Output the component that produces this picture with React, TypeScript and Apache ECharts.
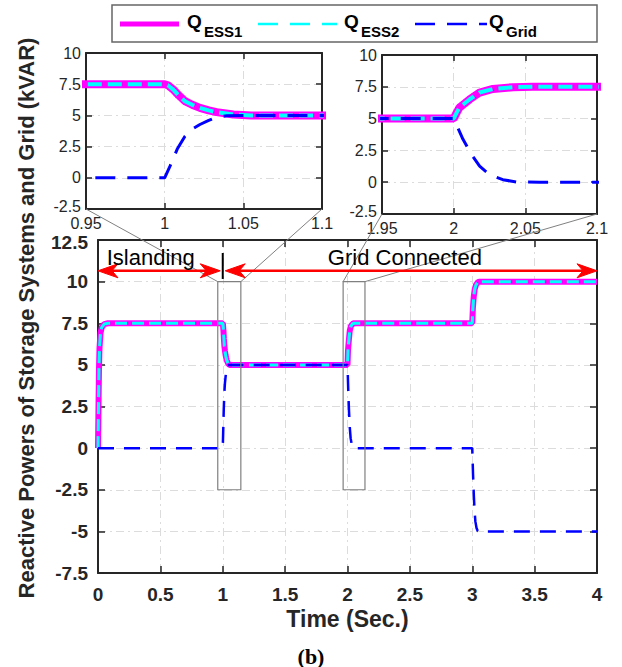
import React, { useEffect, useRef } from "react";
import * as echarts from "echarts";

// ---- data ----
const tEss = [0, 0.004, 0.008, 0.012, 0.02, 0.03, 0.05, 0.08, 1.0, 1.002, 1.0055, 1.009, 1.0129, 1.0175, 1.0224, 1.028, 1.033, 1.0436, 1.055, 2.0, 2.002, 2.004, 2.0112, 2.0181, 2.0274, 2.0414, 2.055, 3.0, 3.002, 3.005, 3.012, 3.02, 3.03, 3.045, 3.06, 4.0];
const qEss1 = [0, 2.5, 4.8, 6.0, 6.9, 7.25, 7.45, 7.5, 7.5, 7.42, 7.07, 6.6, 6.14, 5.85, 5.6, 5.4, 5.26, 5.07, 5.0, 5.0, 5.45, 5.87, 6.52, 7.05, 7.33, 7.47, 7.5, 7.5, 7.9, 8.4, 9.1, 9.55, 9.8, 9.97, 10.0, 10.0];
const qEss2 = [0, 2.5, 4.8, 6.0, 6.9, 7.25, 7.45, 7.5, 7.5, 7.42, 7.07, 6.6, 6.14, 5.85, 5.6, 5.4, 5.26, 5.07, 5.0, 5.0, 5.45, 5.87, 6.52, 7.05, 7.33, 7.47, 7.5, 7.5, 7.9, 8.4, 9.1, 9.55, 9.8, 9.97, 10.0, 10.0];
const tGrid = [0, 1.0, 1.0034, 1.008, 1.0129, 1.0175, 1.0224, 1.028, 1.033, 1.0394, 1.05, 2.0, 2.0065, 2.0124, 2.0181, 2.025, 2.0343, 2.0437, 2.06, 3.0, 3.0065, 3.0124, 3.0181, 3.025, 3.0343, 3.0437, 3.06, 4.0];
const qGrid = [0, 0, 0.93, 2.3, 3.33, 3.9, 4.27, 4.6, 4.85, 4.98, 5.0, 5.0, 3.37, 2.18, 1.26, 0.6, 0.2, 0.02, 0, 0, -1.6, -2.8, -3.7, -4.4, -4.8, -4.98, -5, -5];

const seriesNames = ["Q_ESS1", "Q_ESS2", "Q_Grid"];
const legendSubs = ["ESS1", "ESS2", "Grid"];
const mainXRange = [0, 4, 0.5];
const mainYRange = [-7.5, 12.5, 2.5];
const inset1XRange = [0.95, 1.1, 0.05];
const inset2XRange = [1.95, 2.1, 0.05];
const insetYRange = [-2.5, 10, 2.5];
const zoomBoxes = [[0.96, 1.145], [1.965, 2.14]];

const W = 622;
const H = 667;

export default function App() {
  const ref = useRef<HTMLDivElement>(null);
  useEffect(() => {
    const chart = echarts.init(ref.current as HTMLDivElement, null, { renderer: "svg" });
    const font = "'Liberation Sans', Arial, Helvetica, sans-serif";
    const ink = "#262626";
    const grids = [
      { left: 98, top: 240, width: 499, height: 333 },
      { left: 86, top: 53, width: 236, height: 156 },
      { left: 382, top: 55, width: 215, height: 159 },
    ];
    const xr = [mainXRange, inset1XRange, inset2XRange];
    const yr = [mainYRange, insetYRange, insetYRange];
    const fmt = (v: number) => String(parseFloat(v.toFixed(3)));
    const grid = [0, 1, 2].map((g) => ({ ...grids[g], containLabel: false, show: false }));

    const xAxis: any[] = [];
    const yAxis: any[] = [];
    [0, 1, 2].forEach((g) => {
      const main = g === 0;
      const fs = main ? 19 : 16;
      const labelStyle = {
        fontFamily: font,
        fontSize: fs,
        fontWeight: main ? "bold" : "normal",
        color: ink,
      };
      const rich = {
        up: { ...labelStyle, padding: [0, 0, 6, 0] },
        down: { ...labelStyle, padding: [4, 0, 0, 0] },
      };
      const split = { show: true, lineStyle: { color: "#dcdcdc", width: 1, type: [8, 4, 2, 4] } };
      const line = { show: true, onZero: false, lineStyle: { color: ink, width: 2 } };
      const tick = { show: true, inside: true, length: main ? 7 : 6, lineStyle: { color: ink, width: 1.5 } };
      ["bottom", "top"].forEach((pos, k) => {
        xAxis.push({
          type: "value",
          gridIndex: g,
          position: pos,
          min: xr[g][0],
          max: xr[g][1],
          interval: xr[g][2],
          axisLine: line,
          axisTick: tick,
          axisLabel: {
            show: k === 0,
            margin: main ? 12 : 6,
            formatter: fmt,
            showMinLabel: true,
            showMaxLabel: true,
            ...labelStyle,
          },
          splitLine: k === 0 ? split : { show: false },
          name: main && k === 0 ? "Time (Sec.)" : "",
          nameLocation: "middle",
          nameGap: 34,
          nameTextStyle: { fontFamily: font, fontSize: 23, fontWeight: "bold", color: ink },
        });
      });
      ["left", "right"].forEach((pos, k) => {
        yAxis.push({
          type: "value",
          gridIndex: g,
          position: pos,
          min: yr[g][0],
          max: yr[g][1],
          interval: yr[g][2],
          axisLine: line,
          axisTick: tick,
          axisLabel: {
            show: k === 0,
            margin: main ? 10 : 5,
            formatter: (v: number) => {
              const s = fmt(v);
              if (main && Math.abs(v - yr[g][1]) < 1e-9) return `{down|${s}}`;
              if (!main && Math.abs(v - yr[g][0]) < 1e-9) return `{up|${s}}`;
              return s;
            },
            rich,
            showMinLabel: true,
            showMaxLabel: true,
            ...labelStyle,
          },
          splitLine: k === 0 ? split : { show: false },
        });
      });
    });

    const ess1 = tEss.map((t, i) => [t, qEss1[i]]);
    const ess2 = tEss.map((t, i) => [t, qEss2[i]]);
    const gridQ = tGrid.map((t, i) => [t, qGrid[i]]);
    const series: any[] = [];
    [0, 1, 2].forEach((g) => {
      const main = g === 0;
      const common = {
        type: "line",
        xAxisIndex: 2 * g,
        yAxisIndex: 2 * g,
        symbol: "none",
        showSymbol: false,
        clip: true,
        animation: false,
      };
      series.push({
        ...common,
        name: seriesNames[0],
        data: ess1,
        lineStyle: { color: "#ff00ff", width: main ? 6 : 8 },
        z: 2,
      });
      series.push({
        ...common,
        name: seriesNames[1],
        data: ess2,
        lineStyle: { color: "#00ffff", width: main ? 3 : 4, type: main ? [12, 5] : [14, 6] },
        z: 3,
      });
      series.push({
        ...common,
        name: seriesNames[2],
        data: gridQ,
        lineStyle: { color: "#0000ff", width: main ? 2.5 : 3, type: main ? [16, 10] : [20, 12] },
        z: 4,
      });
    });

    chart.setOption({
      animation: false,
      backgroundColor: "#ffffff",
      grid,
      xAxis,
      yAxis,
      series,
    });

    const p = (g: number, x: number, y: number) =>
      chart.convertToPixel({ gridIndex: g } as any, [x, y]) as number[];

    const elements: any[] = [];
    const Z = 100;

    // Y axis title
    elements.push({
      type: "text",
      x: 26,
      y: 318,
      rotation: Math.PI / 2,
      z: Z,
      style: {
        text: "Reactive Powers of Storage Systems and Grid (kVAR)",
        fontFamily: font,
        fontSize: 22,
        fontWeight: "bold",
        fill: ink,
        align: "center",
        verticalAlign: "middle",
      },
    });
    // (b)
    elements.push({
      type: "text",
      x: 311,
      y: 656,
      z: Z,
      style: {
        text: "(b)",
        fontFamily: "'Liberation Serif', 'Times New Roman', serif",
        fontSize: 22,
        fontWeight: "bold",
        fill: "#000",
        align: "center",
        verticalAlign: "middle",
      },
    });

    // Legend box
    elements.push({
      type: "rect",
      z: Z,
      shape: { x: 112, y: 5, width: 485, height: 37 },
      style: { fill: "#fff", stroke: "#666", lineWidth: 1.5 },
    });
    const legendItems = [
      { x1: 120, x2: 179, tx: 187, color: "#ff00ff", w: 5, dash: null as any },
      { x1: 258, x2: 337, tx: 344, color: "#00ffff", w: 2.5, dash: [20, 12] },
      { x1: 415, x2: 487, tx: 489, color: "#0000ff", w: 2.5, dash: [20, 12] },
    ];
    legendItems.forEach((it, i) => {
      elements.push({
        type: "line",
        z: Z + 1,
        shape: { x1: it.x1, y1: 24, x2: it.x2, y2: 24 },
        style: { stroke: it.color, lineWidth: it.w, lineDash: it.dash || undefined },
      });
      elements.push({
        type: "text",
        z: Z + 1,
        x: it.tx,
        y: 21,
        style: {
          text: "Q",
          fontFamily: font,
          fontSize: 19,
          fontWeight: "bold",
          fill: "#000",
          align: "left",
          verticalAlign: "middle",
        },
      });
      elements.push({
        type: "text",
        z: Z + 1,
        x: it.tx + 17,
        y: 31,
        style: {
          text: legendSubs[i],
          fontFamily: font,
          fontSize: 15,
          fontWeight: "bold",
          fill: "#000",
          align: "left",
          verticalAlign: "middle",
        },
      });
    });

    // Zoom rectangles and connectors
    const insetCorners = [
      [p(1, inset1XRange[0], insetYRange[0]), p(1, inset1XRange[1], insetYRange[0])],
      [p(2, inset2XRange[0], insetYRange[0]), p(2, inset2XRange[1], insetYRange[0])],
    ];
    zoomBoxes.forEach((b, i) => {
      const tl = p(0, b[0], insetYRange[1]);
      const br = p(0, b[1], insetYRange[0]);
      const tr = p(0, b[1], insetYRange[1]);
      elements.push({
        type: "rect",
        z: Z,
        shape: { x: tl[0], y: tl[1], width: br[0] - tl[0], height: br[1] - tl[1] },
        style: { fill: "none", stroke: "#808080", lineWidth: 1.2 },
      });
      elements.push({
        type: "line",
        z: Z,
        shape: { x1: insetCorners[i][0][0], y1: insetCorners[i][0][1], x2: tl[0], y2: tl[1] },
        style: { stroke: "#808080", lineWidth: 1 },
      });
      elements.push({
        type: "line",
        z: Z,
        shape: { x1: insetCorners[i][1][0], y1: insetCorners[i][1][1], x2: tr[0], y2: tr[1] },
        style: { stroke: "#808080", lineWidth: 1 },
      });
    });

    // Arrows
    const arrowY = 10.65;
    const arrows = [
      [0, 0.98],
      [1.02, 4],
    ];
    const L = 20;
    const HW = 7;
    arrows.forEach((a) => {
      const l = p(0, a[0], arrowY);
      const r = p(0, a[1], arrowY);
      const y = l[1];
      elements.push({
        type: "line",
        z: Z + 2,
        shape: { x1: l[0] + L * 0.6, y1: y, x2: r[0] - L * 0.6, y2: y },
        style: { stroke: "#ff0000", lineWidth: 2.5 },
      });
      [
        [l[0], 1],
        [r[0], -1],
      ].forEach(([tx, d]) => {
        elements.push({
          type: "polygon",
          z: Z + 2,
          shape: {
            points: [
              [tx, y],
              [tx + d * L, y - HW],
              [tx + d * L * 0.7, y],
              [tx + d * L, y + HW],
            ],
          },
          style: { fill: "#ff0000", stroke: "#ff0000", lineWidth: 1 },
        });
      });
    });
    // black divider at t = 1
    const d1 = p(0, 1, 11.72);
    const d2 = p(0, 1, 10.16);
    elements.push({
      type: "line",
      z: Z + 2,
      shape: { x1: d1[0], y1: d1[1], x2: d2[0], y2: d2[1] },
      style: { stroke: "#000", lineWidth: 2 },
    });
    // labels
    const isl = p(0, 0.07, 11.6);
    elements.push({
      type: "text",
      z: Z + 2,
      x: isl[0],
      y: 257,
      style: {
        text: "Islanding",
        fontFamily: font,
        fontSize: 22,
        fill: "#000",
        align: "left",
        verticalAlign: "middle",
      },
    });
    const gc = p(0, 2.46, 11.6);
    elements.push({
      type: "text",
      z: Z + 2,
      x: gc[0],
      y: 257,
      style: {
        text: "Grid Connected",
        fontFamily: font,
        fontSize: 22,
        fill: "#000",
        align: "center",
        verticalAlign: "middle",
      },
    });

    chart.setOption({ graphic: { elements } });

    return () => {
      chart.dispose();
    };
  }, []);
  return (
    <div
      ref={ref}
      style={{ position: "fixed", left: 0, top: 0, width: W, height: H, background: "#fff" }}
    />
  );
}
